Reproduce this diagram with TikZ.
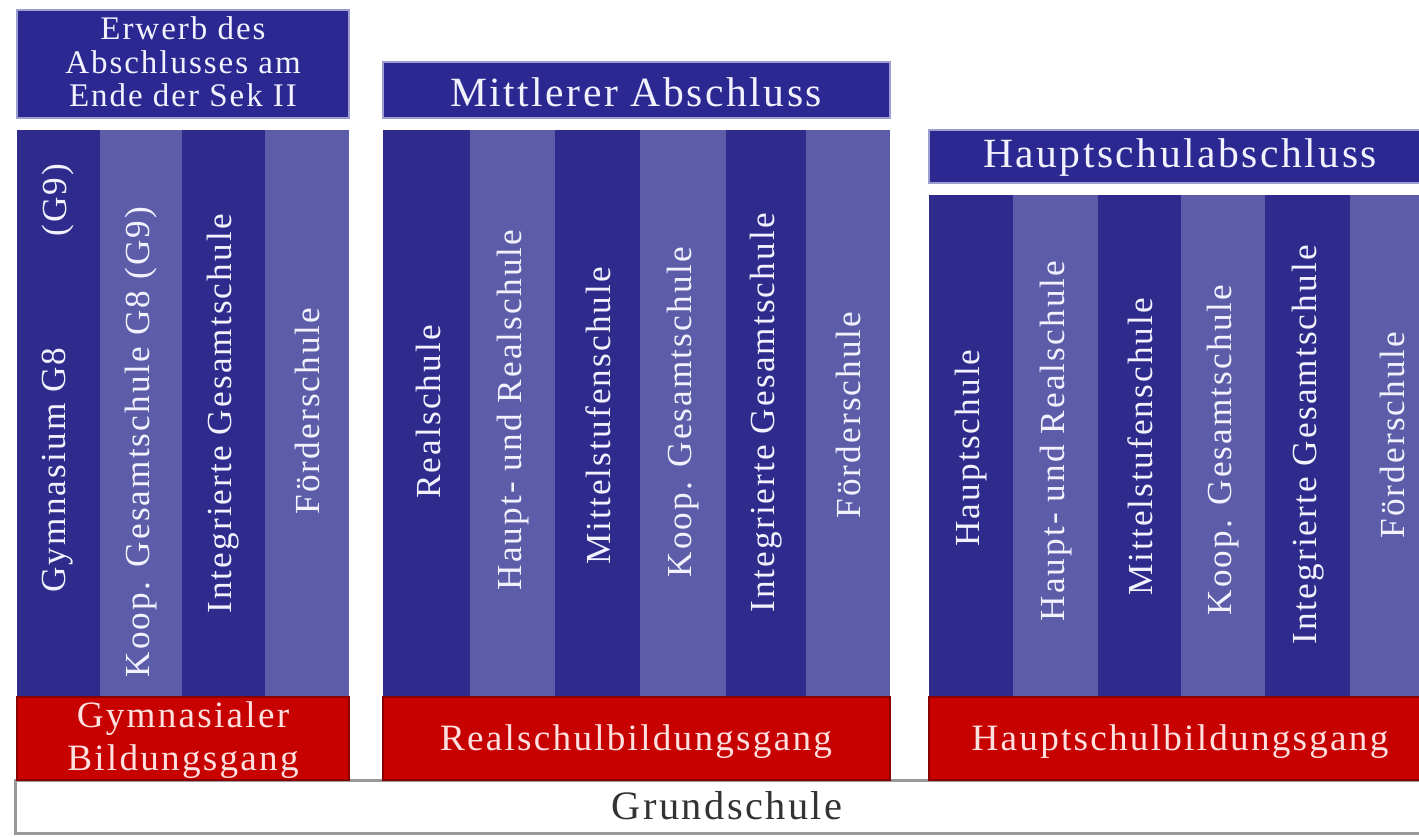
\documentclass[tikz,border=0pt]{standalone}
\usepackage{fontspec}
\setmainfont{Liberation Serif}[LetterSpace=6]
\definecolor{DarkClr}{rgb}{0.18,0.17,0.55}
\definecolor{LightClr}{rgb}{0.36,0.36,0.66}
\definecolor{HeadClr}{rgb}{0.17,0.16,0.57}
\definecolor{EdgeClr}{rgb}{0.62,0.62,0.82}
\definecolor{RedClr}{rgb}{0.78,0,0}
\definecolor{TextClr}{rgb}{0.95,0.95,1}
\definecolor{RedTextClr}{rgb}{1,0.88,0.88}
\definecolor{BaseClr}{rgb}{0.6,0.6,0.6}

\begin{document}
\begin{tikzpicture}[x=0.5pt,y=-0.5pt,
  head/.style={fill=HeadClr,draw=EdgeClr,line width=0.75pt},
  redbar/.style={fill=RedClr,draw=RedClr!70!black,line width=0.75pt},
  basebox/.style={fill=white,draw=BaseClr,line width=1.5pt},
  collabel/.style={rotate=90,text=TextClr,inner sep=0pt,font=\fontsize{17.6}{19}\selectfont},
  headlabel/.style={text=TextClr,align=center,inner sep=0pt,font=\fontsize{20.8}{23}\selectfont},
  redlabel/.style={text=RedTextClr,align=center,inner sep=0pt,font=\fontsize{18.6}{21.5}\selectfont}]
\useasboundingbox (0,0) rectangle (1419,836);
\clip (0,0) rectangle (1419,836);

\draw[basebox] (15,780) rectangle (1445,833);
\node[text=black!80,inner sep=0pt,font=\fontsize{20.2}{23}\selectfont] (grund) at (727,806) {Grundschule};

\draw[head] (17,10) rectangle (349,118);
\draw[head] (383,62) rectangle (890,118);
\draw[head] (929,130) rectangle (1440,183);

\foreach \xa/\xb/\clr in {17/100/DarkClr,100/182/LightClr,182/265/DarkClr,265/349/LightClr}
  \fill[\clr] (\xa,130) rectangle (\xb,697);
\foreach \xa/\xb/\clr in {383/470/DarkClr,470/555/LightClr,555/640/DarkClr,640/726/LightClr,726/806/DarkClr,806/890/LightClr}
  \fill[\clr] (\xa,130) rectangle (\xb,697);
\foreach \xa/\xb/\clr in {929/1013/DarkClr,1013/1098/LightClr,1098/1181/DarkClr,1181/1265/LightClr,1265/1350/DarkClr,1350/1440/LightClr}
  \fill[\clr] (\xa,195) rectangle (\xb,697);

\draw[redbar] (17,697) rectangle (349,780);
\draw[redbar] (383,697) rectangle (890,780);
\draw[redbar] (929,697) rectangle (1440,780);

\node[headlabel,font=\fontsize{16.5}{16.8}\selectfont] (sekzwei) at (183,62) {Erwerb des\\Abschlusses am\\Ende der Sek II};
\node[headlabel] (mittlerer) at (636,92) {Mittlerer Abschluss};
\node[headlabel] (haupt) at (1180,157) {Hauptschulabschluss};

\node[collabel] (gymacht) at (58,470) {Gymnasium G8};
\node[collabel] (gymneun) at (58,200) {(G9)};
\node[collabel] (koopgym) at (141,442) {Koop. Gesamtschule G8 (G9)};
\node[collabel] (igsgym) at (223,414) {Integrierte Gesamtschule};
\node[collabel] (foerdgym) at (307,411) {Förderschule};

\node[collabel] (realrs) at (428,412) {Realschule};
\node[collabel] (hrrs) at (513,410) {Haupt- und Realschule};
\node[collabel] (mittelrs) at (598,416) {Mittelstufenschule};
\node[collabel] (kooprs) at (683,412) {Koop. Gesamtschule};
\node[collabel] (igsrs) at (766,413) {Integrierte Gesamtschule};
\node[collabel] (foerdrs) at (848,415) {Förderschule};

\node[collabel] (hauptschule) at (971,448) {Hauptschule};
\node[collabel] (hrhs) at (1056,441) {Haupt- und Realschule};
\node[collabel] (mittelhs) at (1140,447) {Mittelstufenschule};
\node[collabel] (koophs) at (1223,450) {Koop. Gesamtschule};
\node[collabel] (igshs) at (1308,445) {Integrierte Gesamtschule};
\node[collabel] (foerdhs) at (1392,435) {Förderschule};

\node[redlabel] (gymgang) at (183,740) {Gymnasialer\\Bildungsgang};
\node[redlabel] (realgang) at (636,742) {Realschulbildungsgang};
\node[redlabel] (hauptgang) at (1180,742) {Hauptschulbildungsgang};

\end{tikzpicture}
\end{document}
